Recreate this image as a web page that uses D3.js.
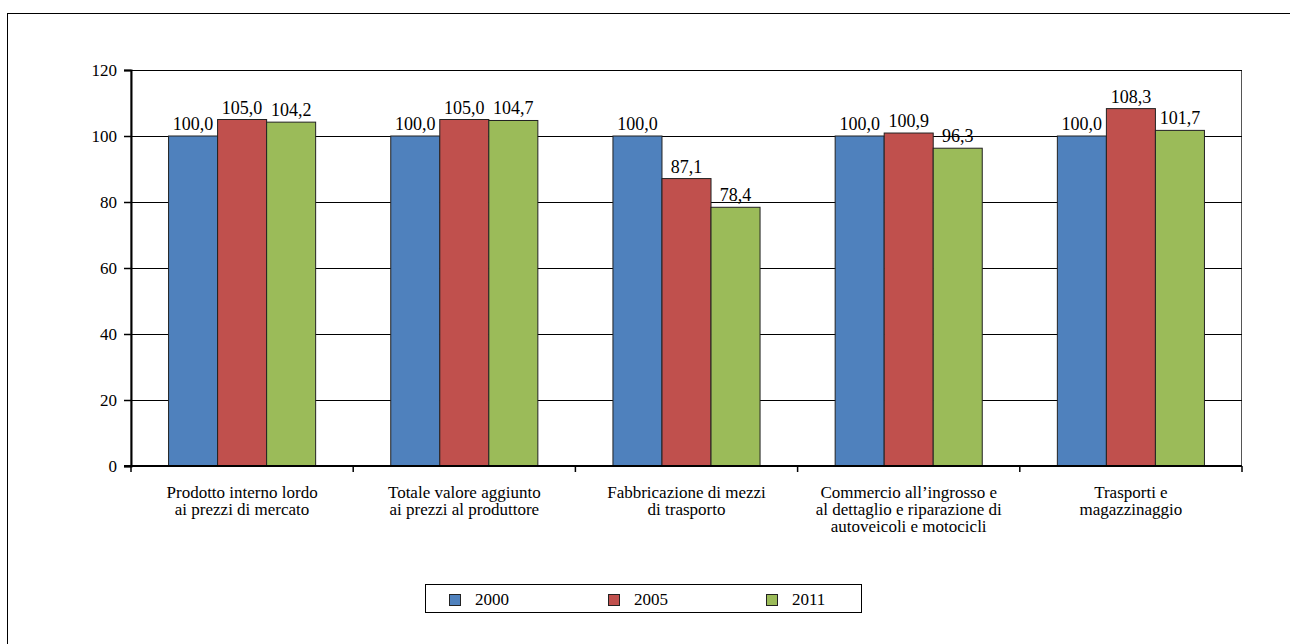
<!DOCTYPE html>
<html>
<head>
<meta charset="utf-8">
<script src="https://cdn.jsdelivr.net/npm/d3@7"></script>
</head>
<body style="margin:0">
<svg id="chart" width="1290" height="644" font-family="Liberation Serif"></svg>
<script>
// Categories (each label split into its printed lines)
const categories = [
  ["Prodotto interno lordo", "ai prezzi di mercato"],
  ["Totale valore aggiunto", "ai prezzi al produttore"],
  ["Fabbricazione di mezzi", "di trasporto"],
  ["Commercio all\u2019ingrosso e", "al dettaglio e riparazione di", "autoveicoli e motocicli"],
  ["Trasporti e", "magazzinaggio"]
];
const seriesNames = ["2000", "2005", "2011"];
const values2000 = [100.0, 100.0, 100.0, 100.0, 100.0];
const values2005 = [105.0, 105.0, 87.1, 100.9, 108.3];
const values2011 = [104.2, 104.7, 78.4, 96.3, 101.7];
const yTicks = [0, 20, 40, 60, 80, 100, 120];
const colors = ["#4f81bd", "#c0504d", "#9bbb59"];

const series = [values2000, values2005, values2011];
const FONT = "Liberation Serif";

const svg = d3.select("#chart");
const margin = { left: 131, right: 1242, top: 70, bottom: 466 };

// Outer frame
svg.append("rect")
  .attr("x", 7.5).attr("y", 13.5)
  .attr("width", 1290).attr("height", 700)
  .attr("fill", "none").attr("stroke", "#000").attr("stroke-width", 1);

const x0 = d3.scaleBand()
  .domain(d3.range(categories.length))
  .range([margin.left, margin.right])
  .paddingInner(0.338).paddingOuter(0.169);
const x1 = d3.scaleBand()
  .domain(d3.range(series.length))
  .range([0, x0.bandwidth()]);
const y = d3.scaleLinear().domain([0, 120]).range([margin.bottom, margin.top]);

// Plot area border (top / right)
svg.append("rect")
  .attr("x", margin.left).attr("y", margin.top + 0.5)
  .attr("width", margin.right - margin.left - 0.5)
  .attr("height", margin.bottom - margin.top)
  .attr("fill", "none").attr("stroke", "#555").attr("stroke-width", 1);

// Horizontal gridlines
svg.append("g").selectAll("line")
  .data(yTicks.filter(t => t > 0))
  .join("line")
  .attr("x1", margin.left).attr("x2", margin.right)
  .attr("y1", d => Math.round(y(d)) + 0.5).attr("y2", d => Math.round(y(d)) + 0.5)
  .attr("stroke", "#000").attr("stroke-width", 1);

// Bars with value labels
const groups = svg.append("g").selectAll("g")
  .data(categories)
  .join("g")
  .attr("transform", (d, i) => `translate(${x0(i)},0)`);

groups.each(function(d, i) {
  const g = d3.select(this);
  series.forEach((vals, s) => {
    g.append("rect")
      .attr("x", x1(s)).attr("y", y(vals[i]))
      .attr("width", x1.bandwidth()).attr("height", y(0) - y(vals[i]))
      .attr("fill", colors[s]).attr("stroke", "#222").attr("stroke-width", 1);
    g.append("text")
      .attr("x", x1(s) + x1.bandwidth() / 2)
      .attr("y", y(vals[i]) - 6)
      .attr("text-anchor", "middle")
      .attr("font-family", FONT)
      .attr("font-size", 18)
      .attr("fill", "#000")
      .text(d3.format(".1f")(vals[i]).replace(".", ","));
  });
});

// Y axis
const yAxis = svg.append("g")
  .attr("transform", `translate(${margin.left},0)`)
  .call(d3.axisLeft(y).tickValues(yTicks).tickSize(7).tickPadding(7));
yAxis.attr("font-family", FONT).attr("font-size", 17);
yAxis.select(".domain").attr("stroke", "#000").attr("stroke-width", 2);
yAxis.selectAll(".tick line").attr("stroke", "#000").attr("stroke-width", 1.5);
yAxis.selectAll(".tick text").attr("fill", "#000").attr("font-family", FONT);

// X axis baseline with category boundary ticks
const boundaries = d3.range(categories.length + 1)
  .map(i => margin.left + i * (margin.right - margin.left) / categories.length);
svg.append("line")
  .attr("x1", margin.left - 7).attr("x2", margin.right)
  .attr("y1", margin.bottom).attr("y2", margin.bottom)
  .attr("stroke", "#000").attr("stroke-width", 2);
svg.append("g").selectAll("line")
  .data(boundaries)
  .join("line")
  .attr("x1", d => d).attr("x2", d => d)
  .attr("y1", margin.bottom).attr("y2", margin.bottom + 6)
  .attr("stroke", "#000").attr("stroke-width", 1.5);

// Category labels, one text per line
const catGroups = svg.append("g").selectAll("g")
  .data(categories)
  .join("g");
catGroups.each(function(lines, i) {
  const cx = x0(i) + x0.bandwidth() / 2;
  d3.select(this).selectAll("text")
    .data(lines)
    .join("text")
    .attr("x", cx)
    .attr("y", (l, j) => 498 + j * 17)
    .attr("text-anchor", "middle")
    .attr("font-family", FONT)
    .attr("font-size", 17)
    .attr("fill", "#000")
    .text(l => l);
});

// Legend
const legend = svg.append("g");
legend.append("rect")
  .attr("x", 425.5).attr("y", 584.5).attr("width", 436).attr("height", 28)
  .attr("fill", "#fff").attr("stroke", "#000").attr("stroke-width", 1);
const legendX = [449, 608, 766];
seriesNames.forEach((name, s) => {
  legend.append("rect")
    .attr("x", legendX[s] + 0.5).attr("y", 594.5).attr("width", 11).attr("height", 11)
    .attr("fill", colors[s]).attr("stroke", "#222").attr("stroke-width", 1);
  legend.append("text")
    .attr("x", legendX[s] + 26).attr("y", 605)
    .attr("font-family", FONT)
    .attr("font-size", 17)
    .attr("fill", "#000")
    .text(name);
});
</script>
</body>
</html>
